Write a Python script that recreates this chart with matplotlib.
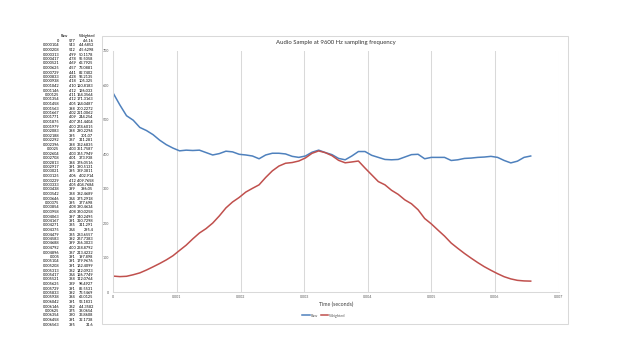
import matplotlib
matplotlib.use("Agg")
import matplotlib.pyplot as plt
from matplotlib.patches import Rectangle
from matplotlib.lines import Line2D

# Sample times (seconds), as listed in the sheet
time_s = [
    0, 0.000104, 0.000208, 0.000313, 0.000417, 0.000521, 0.000625, 0.000729,
    0.000833, 0.000938, 0.001042, 0.001146, 0.00125, 0.001354, 0.001458, 0.001563,
    0.001667, 0.001771, 0.001875, 0.001979, 0.002083, 0.002188, 0.002292, 0.002396,
    0.0025, 0.002604, 0.002708, 0.002813, 0.002917, 0.003021, 0.003125, 0.003229,
    0.003333, 0.003438, 0.003542, 0.003646, 0.00375, 0.003854, 0.003958, 0.004063,
    0.004167, 0.004271, 0.004375, 0.004479, 0.004583, 0.004688, 0.004792, 0.004896,
    0.005, 0.005104, 0.005208, 0.005313, 0.005417, 0.005521, 0.005625, 0.005729,
    0.005833, 0.005938, 0.006042, 0.006146, 0.00625, 0.006354, 0.006458, 0.006563,
]

raw = [
    577, 543, 512, 499, 478, 469, 457, 441, 428, 418, 410, 412, 411, 412, 405, 398,
    402, 409, 407, 400, 398, 395, 387, 398, 403, 403, 401, 394, 391, 395, 406, 412,
    405, 399, 388, 384, 395, 408, 408, 397, 391, 385, 384, 385, 392, 399, 400, 387,
    391, 391, 391, 382, 384, 388, 389, 391, 392, 394, 391, 382, 375, 380, 391, 395,
]

weighted = [
    46.16, 44.6852, 45.6298, 50.1178, 55.5058, 63.7925, 73.0881, 82.7402,
    93.2135, 105.325, 120.8183, 136.033, 154.3564, 171.3163, 184.0487, 200.2272,
    221.0062, 244.254, 261.4404, 274.6015, 290.2294, 301.07, 311.281, 332.6835,
    351.7587, 365.7949, 373.938, 376.0516, 380.5131, 389.3811, 402.914, 409.7658,
    404.7684, 396.05, 382.4689, 375.2918, 377.698, 380.4634, 360.0258, 340.2495,
    320.7298, 311.291, 295.4, 283.6557, 267.7383, 256.3023, 238.8792, 213.4232,
    197.898, 179.9676, 162.4099, 142.0923, 126.7749, 112.0764, 98.4927, 85.5531,
    73.5469, 63.0125, 53.1831, 44.3582, 38.0654, 33.8608, 32.1738, 31.6,
]

x_ticks = [0, 0.001, 0.002, 0.003, 0.004, 0.005, 0.006, 0.007]
y_ticks = [0, 100, 200, 300, 400, 500, 600, 700]

TITLE = "Audio Sample at 9600 Hz sampling frequency"
XLABEL = "Time (seconds)"

BLUE = "#4F81BD"
RED = "#C0504D"
GRID = "#D9D9D9"
TXT = "#595959"

W, H = 620, 361
plt.rcParams["font.family"] = ["Lato", "DejaVu Sans"]

fig = plt.figure(figsize=(W / 100, H / 100), dpi=100)


def fx(px):
    return px / W


def fy(py):
    return 1 - py / H


def fmt(v):
    s = f"{v:.6f}".rstrip("0").rstrip(".")
    return s if s else "0"


# --- spreadsheet columns on the left ---
fs_tab = 2.8
fig.text(fx(61), fy(35.7), "Raw", fontsize=fs_tab, ha="left", va="center", color="black")
fig.text(fx(79), fy(35.7), "Weighted", fontsize=fs_tab, ha="left", va="center", color="black")
for i, (t, r, w) in enumerate(zip(time_s, raw, weighted)):
    y = fy(41 + 4.5 * i)
    fig.text(fx(59.3), y, fmt(t), fontsize=fs_tab, ha="right", va="center")
    fig.text(fx(76), y, str(r), fontsize=fs_tab, ha="right", va="center")
    fig.text(fx(93.3), y, f"{w:.4f}".rstrip("0").rstrip("."), fontsize=fs_tab, ha="right", va="center")

# --- chart frame ---
fig.patches.append(
    Rectangle((fx(102), fy(324)), fx(568) - fx(102), fy(35.5) - fy(324),
              transform=fig.transFigure, fill=False, ec=GRID, lw=0.75)
)

ax = fig.add_axes([fx(113.3), fy(292), fx(558.5) - fx(113.3), fy(51) - fy(292)])
ax.plot(time_s, raw, color=BLUE, lw=1.1, label="Raw")
ax.plot(time_s, weighted, color=RED, lw=1.1, label="Weighted")

ax.set_xlim(0, 0.007)
ax.set_ylim(0, 700)
ax.set_xticks(x_ticks)
ax.set_xticklabels([fmt(v) for v in x_ticks])
ax.set_yticks(y_ticks)
ax.tick_params(length=0, labelsize=2.6, colors=TXT)
ax.tick_params(axis="y", pad=3)
ax.tick_params(axis="x", pad=2)
ax.grid(axis="x", color=GRID, lw=0.75)
ax.set_axisbelow(True)
for s in ("top", "right"):
    ax.spines[s].set_visible(False)
for s in ("left", "bottom"):
    ax.spines[s].set_color(GRID)
    ax.spines[s].set_linewidth(0.75)

fig.text(fx(336), fy(42.7), TITLE, fontsize=4.3, ha="center", va="center", color="#333333")
fig.text(fx(336), fy(304.7), XLABEL, fontsize=3.8, ha="center", va="center", color="#404040")

handles = [Line2D([], [], color=BLUE, lw=1.1), Line2D([], [], color=RED, lw=1.1)]
fig.legend(handles, ["Raw", "Weighted"], loc="center", bbox_to_anchor=(fx(324), fy(315.7)),
           ncol=2, frameon=False, fontsize=2.8, handlelength=1.9, handletextpad=0.2,
           columnspacing=0.8, labelcolor=TXT, borderaxespad=0, borderpad=0)

fig.savefig("out.png", dpi=100)
